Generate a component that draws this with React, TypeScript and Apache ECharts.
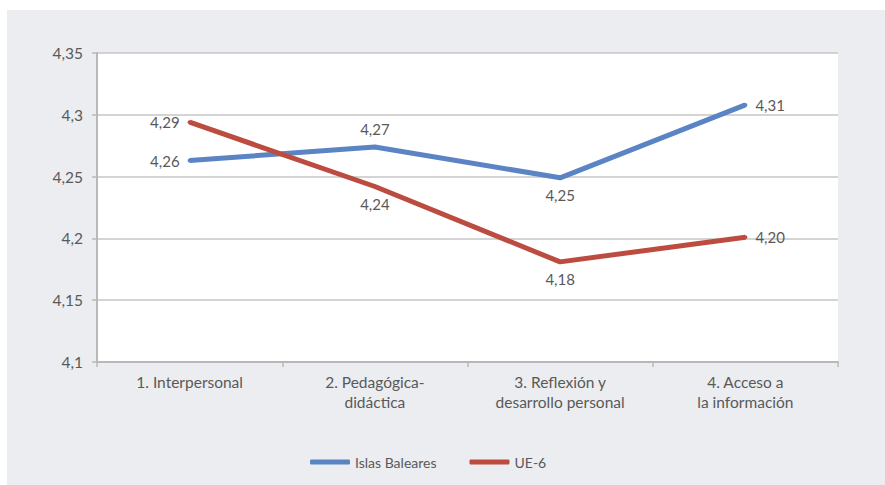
import React, { useEffect, useRef } from "react";
import * as echarts from "echarts";

const categories = [
  "1. Interpersonal",
  "2. Pedagógica-\ndidáctica",
  "3. Reflexión y\ndesarrollo personal",
  "4. Acceso a\nla información",
];
const seriesNames = ["Islas Baleares", "UE-6"];
const balearesValues = [4.263, 4.274, 4.249, 4.308];
const ue6Values = [4.294, 4.242, 4.181, 4.201];
const balearesLabelPos = ["left", "top", "bottom", "right"];
const ue6LabelPos = ["left", "bottom", "bottom", "right"];
const yMin = 4.1;
const yMax = 4.35;
const yInterval = 0.05;

const FONT = "Lato";
const TEXT = "#595959";

function fmtTick(v: number) {
  return parseFloat(v.toFixed(2)).toString().replace(".", ",");
}
function fmtVal(v: number) {
  return v.toFixed(2).replace(".", ",");
}

export default function App() {
  const ref = useRef<HTMLDivElement>(null);
  useEffect(() => {
    if (!ref.current) return;
    const chart = echarts.init(ref.current, undefined, { renderer: "svg" });
    const mkData = (vals: number[], pos: string[]) =>
      vals.map((v, i) => ({
        value: v,
        label: { position: pos[i] as any },
      }));
    const labelStyle = { show: true, color: TEXT, fontSize: 15, fontFamily: FONT, distance: 8, formatter: (p: any) => fmtVal(p.value) };
    chart.setOption({
      animation: false,
      backgroundColor: "#ebedf0",
      textStyle: { fontFamily: FONT },
      grid: { left: 90, top: 43, right: 47, bottom: 123, containLabel: false, show: true, backgroundColor: "#ffffff", borderWidth: 0 },
      legend: {
        left: 298,
        top: 440,
        icon: "roundRect",
        itemWidth: 40,
        itemHeight: 5,
        itemGap: 33,
        textStyle: { fontFamily: FONT, fontSize: 14, color: TEXT },
        data: seriesNames,
      },
      xAxis: {
        type: "category",
        data: categories,
        boundaryGap: true,
        axisLine: { lineStyle: { color: "#b8b8b8", width: 2 } },
        axisTick: { show: true, length: 5, lineStyle: { color: "#b8b8b8", width: 1.5 } },
        axisLabel: { color: TEXT, fontSize: 15.5, fontFamily: FONT, margin: 10, lineHeight: 20 },
      },
      yAxis: {
        type: "value",
        min: yMin,
        max: yMax,
        interval: yInterval,
        axisLine: { show: true, lineStyle: { color: "#b8b8b8", width: 2 } },
        axisTick: { show: true, length: 5, lineStyle: { color: "#b8b8b8", width: 1.5 } },
        splitLine: { lineStyle: { color: "#c6c6c6", width: 1.5 } },
        axisLabel: { color: TEXT, fontSize: 15.5, fontFamily: FONT, margin: 14, formatter: (v: number) => fmtTick(v) },
      },
      series: [
        {
          name: seriesNames[0],
          type: "line",
          data: mkData(balearesValues, balearesLabelPos),
          symbol: "circle",
          symbolSize: 4,
          lineStyle: { color: "#5a84c4", width: 5 },
          itemStyle: { color: "#5a84c4" },
          label: labelStyle,
        },
        {
          name: seriesNames[1],
          type: "line",
          data: mkData(ue6Values, ue6LabelPos),
          symbol: "circle",
          symbolSize: 4,
          lineStyle: { color: "#bd4c40", width: 5 },
          itemStyle: { color: "#bd4c40" },
          label: labelStyle,
        },
      ],
    });
    return () => chart.dispose();
  }, []);
  return (
    <div style={{ position: "fixed", left: 0, top: 0, width: 885, height: 485, background: "#ffffff" }}>
      <div ref={ref} style={{ position: "absolute", left: 7, top: 10, width: 878, height: 475 }} />
    </div>
  );
}
